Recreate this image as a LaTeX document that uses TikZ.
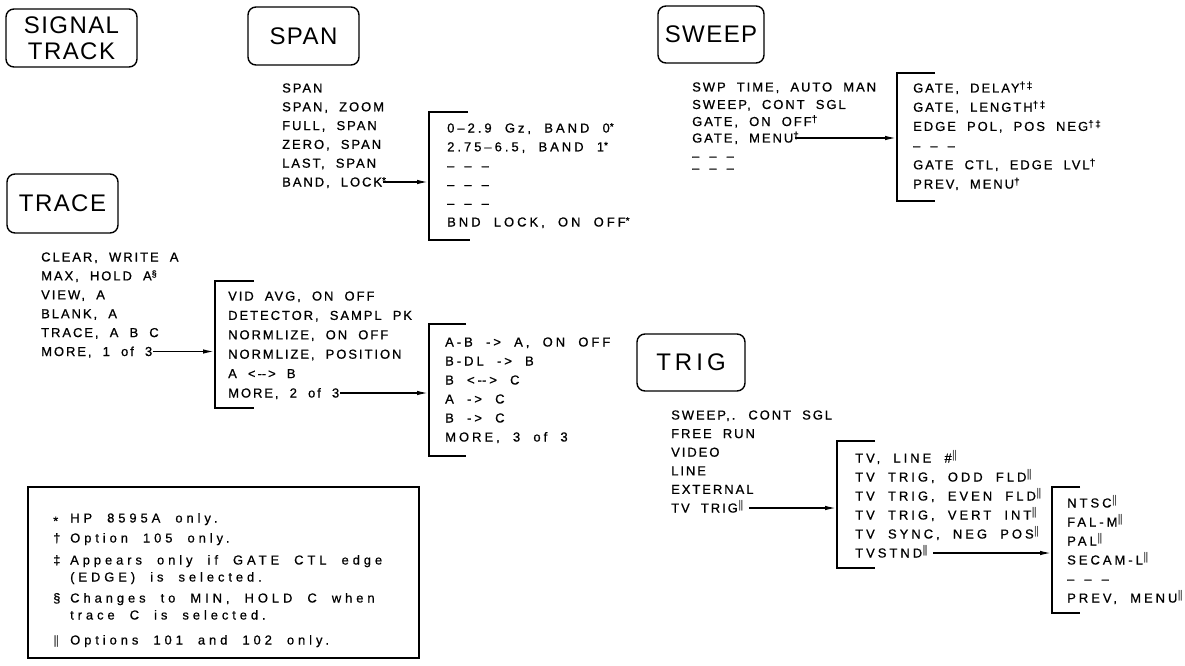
\documentclass[tikz,border=0pt]{standalone}
\usepackage{fontspec}
\setmainfont{Liberation Sans}
\newfontfamily\mf[LetterSpace=15,WordSpace=2,FakeBold=0.8]{Liberation Sans}
\newfontfamily\mfw[LetterSpace=23,WordSpace=2,FakeBold=0.8]{Liberation Sans}
\newfontfamily\lf[LetterSpace=30,WordSpace=2,FakeBold=0.6]{Liberation Sans}
\newfontfamily\kf[LetterSpace=6]{Liberation Sans}
\usetikzlibrary{arrows.meta}
\newcommand\mybbar{\rlap{$\|$}\kern0.5pt$\|$}
\newcommand\mydbar{\raisebox{4pt}{\fontsize{11}{11}\selectfont\mybbar}}
\newcommand\mydag{\raisebox{3.5pt}{\fontsize{10}{10}\selectfont †}}
\newcommand\mydgg{\raisebox{3.5pt}{\fontsize{10}{10}\selectfont †‡}}
\newcommand\mystar{\raisebox{2.5pt}{\fontsize{10}{10}\selectfont *}}
\newcommand\mysect{\raisebox{3.5pt}{\fontsize{9}{9}\selectfont §}}
\newcommand\myblank{–\hspace{10pt}–\hspace{10pt}–}
\begin{document}
\begin{tikzpicture}[x=1pt,y=-1pt,
  key/.style={draw, line width=1.4pt, rounded corners=8pt, inner sep=0pt, align=center, font=\kf\fontsize{24}{26}\selectfont},
  itm/.style={anchor=west, inner sep=0pt, text height=9pt, text depth=0pt, font=\mf\fontsize{13}{15}\selectfont},
  itw/.style={itm, font=\mfw\fontsize{13}{15}\selectfont},
  leg/.style={anchor=west, inner sep=0pt, text height=9pt, text depth=0pt, font=\lf\fontsize{13}{15}\selectfont},
  brk/.style={line width=2pt},
  arr/.style={line width=1.3pt, -{Latex[length=11pt,width=4.5pt]}, shorten <=1pt, shorten >=1pt}]
\useasboundingbox (0,0) rectangle (1185,666);

% hard keys
\node[key, minimum width=131pt, minimum height=58pt] (sigtrk) at (71.5,38) {SIGNAL\\TRACK};
\node[key, minimum width=111pt, minimum height=58pt] (span) at (303.5,36) {SPAN};
\node[key, minimum width=111pt, minimum height=59pt] (trace) at (62.5,203.5) {TRACE};
\node[key, minimum width=106pt, minimum height=57pt] (sweep) at (711,34.5) {SWEEP};
\node[key, minimum width=108pt, minimum height=57pt] (trig) at (691,362.5) {T\,R\,I\,G};

% SPAN menu
\foreach \txt [count=\i] in {SPAN, {SPAN, ZOOM}, {FULL, SPAN}, {ZERO, SPAN}, {LAST, SPAN}, {BAND, LOCK\rlap{\mystar}}}
  \node[itm] (sp\i) at (282,{88+18.8*(\i-1)}) {\txt};
\draw[brk] (468,112) -- (429,112) -- (429,240) -- (470,240);
\coordinate (spb) at (429,182);
\foreach \txt [count=\i] in {{0–2.9 Gz, BAND 0\mystar}, {2.75–6.5, BAND 1\mystar}, \myblank, \myblank, \myblank, {BND LOCK, ON OFF\mystar}}
  \node[itw] (spm\i) at (447,{128+18.8*(\i-1)}) {\txt};
\draw[arr] (sp6.east) -- (sp6.east -| spb);

% SWEEP menu
\node[itm] (sw1) at (692,87) {SWP TIME, AUTO MAN};
\node[itm] (sw2) at (692,104.5) {SWEEP, CONT SGL};
\node[itm] (sw3) at (692,121.5) {GATE, ON OFF\mydag};
\node[itm] (sw4) at (692,138) {GATE, MENU\rlap{\mydag}};
\node[itm] (sw5) at (692,156) {\myblank};
\node[itm] (sw6) at (692,168) {\myblank};
\draw[brk] (935,73) -- (897,73) -- (897,201) -- (935,201);
\coordinate (swb) at (897,138);
\foreach \txt [count=\i] in {{GATE, DELAY\mydgg}, {GATE, LENGTH\mydgg}, {EDGE POL, POS NEG\mydgg}, \myblank, {GATE CTL, EDGE LVL\mydag}, {PREV, MENU\mydag}}
  \node[itm] (swm\i) at (913,{88+19.2*(\i-1)}) {\txt};
\draw[arr] (sw4.east) -- (sw4.east -| swb);

% TRACE menus
\foreach \txt [count=\i] in {{CLEAR, WRITE A}, {MAX, HOLD A\mysect}, {VIEW, A}, {BLANK, A}, {TRACE, A B C}, {MORE, 1 of 3}}
  \node[itm] (tr\i) at (41,{257+18.9*(\i-1)}) {\txt};
\draw[brk] (254,281) -- (215,281) -- (215,408) -- (254,408);
\coordinate (tb1) at (215,351.5);
\draw[arr] (tr6.east) -- (tr6.east -| tb1);
\foreach \txt [count=\i] in {{VID AVG, ON OFF}, {DETECTOR, SAMPL PK}, {NORMLIZE, ON OFF}, {NORMLIZE, POSITION}, {A <-\kern0pt-> B}, {MORE, 2 of 3}}
  \node[itm] (tra\i) at (228,{296+19.4*(\i-1)}) {\txt};
\draw[brk] (466,324) -- (429,324) -- (429,456) -- (466,456);
\coordinate (tb2) at (429,393);
\draw[arr] (tra6.east) -- (tra6.east -| tb2);
\foreach \txt [count=\i] in {{A-B -> A, ON OFF}, {B-DL -> B}, {B <-\kern0pt-> C}, {A -> C}, {B -> C}, {MORE, 3 of 3}}
  \node[itw] (trb\i) at (445,{342+19*(\i-1)}) {\txt};

% TRIG menus
\foreach \txt [count=\i] in {{SWEEP,. CONT SGL}, {FREE RUN}, VIDEO, LINE, EXTERNAL, {TV TRIG\mydbar}}
  \node[itm] (tg\i) at (671,{415+18.6*(\i-1)}) {\txt};
\draw[brk] (875,441) -- (837,441) -- (837,568) -- (875,568);
\coordinate (gb1) at (837,508);
\draw[arr] ([xshift=4pt]tg6.east) -- (tg6.east -| gb1);
\foreach \txt [count=\i] in {{TV, LINE \#\mydbar}, {TV TRIG, ODD FLD\mydbar}, {TV TRIG, EVEN FLD\mydbar}, {TV TRIG, VERT INT\mydbar}, {TV SYNC, NEG POS\mydbar}, {TVSTND\mydbar}}
  \node[itw] (tga\i) at (855,{458+19*(\i-1)}) {\txt};
\draw[brk] (1080,487) -- (1052,487) -- (1052,613) -- (1080,613);
\coordinate (gb2) at (1052,553);
\draw[arr] ([xshift=4pt]tga6.east) -- (tga6.east -| gb2);
\foreach \txt [count=\i] in {{NTSC\mydbar}, {FAL-M\mydbar}, {PAL\mydbar}, {SECAM-L\mydbar}, \myblank, {PREV, MENU\mydbar}}
  \node[itw] (tgb\i) at (1067,{503+19*(\i-1)}) {\txt};

% legend
\node[draw, line width=1.5pt, minimum width=391pt, minimum height=171pt, inner sep=0pt] (legend) at (223.5,572.5) {};
\node[leg] (lsa) at (53,518) {\raisebox{-3pt}{*}};
\node[leg] (lsb) at (53,538) {†};
\node[leg] (lsc) at (53,560) {‡};
\node[leg] (lsd) at (53,598) {§};
\node[leg] (lse) at (53,640) {\mybbar};
\node[leg] (lt1) at (70,518) {HP 8595A only.};
\node[leg] (lt2) at (70,538) {Option 105 only.};
\node[leg] (lt3) at (70,560) {Appears only if GATE CTL edge};
\node[leg] (lt4) at (70,577) {(EDGE) is selected.};
\node[leg] (lt5) at (70,598) {Changes to MIN, HOLD C when};
\node[leg] (lt6) at (70,615) {trace C is selected.};
\node[leg] (lt7) at (70,640) {Options 101 and 102 only.};
\end{tikzpicture}
\end{document}
